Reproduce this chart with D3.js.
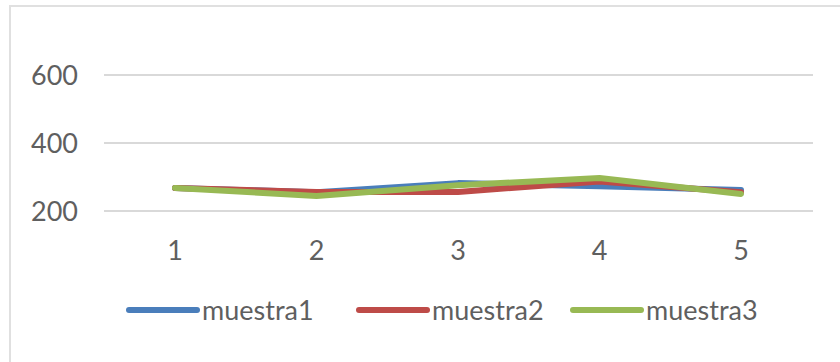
<!DOCTYPE html>
<html>
<head>
<meta charset="utf-8">
<script src="https://cdn.jsdelivr.net/npm/d3@7"></script>
<style>
  body { margin: 0; background: #fff; }
  svg text { font-family: Lato, "Open Sans", sans-serif; fill: #5f5f5f; }
</style>
</head>
<body>
<div id="chart"></div>
<script>
// datos
const categories = ["1", "2", "3", "4", "5"];
const seriesNames = ["muestra1", "muestra2", "muestra3"];
const muestra1 = [268, 255, 282, 273, 262];
const muestra2 = [268, 256, 256, 287, 255];
const muestra3 = [268, 244, 276, 297, 250];
const yTicks = [200, 400, 600];
const colors = ["#4a7ebb", "#be4b48", "#98b954"];

const width = 840, height = 362;

const svg = d3.select("#chart").append("svg")
    .attr("width", width)
    .attr("height", height);

// marco
svg.append("rect")
    .attr("x", 10).attr("y", 6)
    .attr("width", 840).attr("height", 360)
    .attr("fill", "none")
    .attr("stroke", "#e0e0e0")
    .attr("stroke-width", 2);

const x = d3.scalePoint()
    .domain(categories)
    .range([175, 741]);

const y = d3.scaleLinear()
    .domain([200, 600])
    .range([211, 75]);

// lineas de cuadricula
svg.append("g")
    .selectAll("line")
    .data(yTicks)
    .enter()
    .append("line")
    .attr("x1", 104).attr("x2", 813)
    .attr("y1", d => y(d)).attr("y2", d => y(d))
    .attr("stroke", "#d9d9d9")
    .attr("stroke-width", 2);

// etiquetas eje y
svg.append("g")
    .selectAll("text")
    .data(yTicks)
    .enter()
    .append("text")
    .attr("x", 78)
    .attr("y", d => y(d))
    .attr("dy", "0.36em")
    .attr("text-anchor", "end")
    .style("font-size", "27px")
    .text(d => d);

// etiquetas eje x
svg.append("g")
    .selectAll("text")
    .data(categories)
    .enter()
    .append("text")
    .attr("x", d => x(d))
    .attr("y", 250)
    .attr("dy", "0.36em")
    .attr("text-anchor", "middle")
    .style("font-size", "27px")
    .text(d => d);

// lineas de series
const seriesData = [muestra1, muestra2, muestra3];
const line = d3.line()
    .x((d, i) => x(categories[i]))
    .y(d => y(d));

svg.append("g")
    .selectAll("path")
    .data(seriesData)
    .enter()
    .append("path")
    .attr("d", d => line(d))
    .attr("fill", "none")
    .attr("stroke", (d, i) => colors[i])
    .attr("stroke-width", 6)
    .attr("stroke-linejoin", "round")
    .attr("stroke-linecap", "round");

// leyenda
const legendX = [129, 359, 573];
const legend = svg.append("g")
    .selectAll("g")
    .data(seriesNames)
    .enter()
    .append("g")
    .attr("transform", (d, i) => `translate(${legendX[i]}, 310)`);

legend.append("line")
    .attr("x1", 0).attr("x2", 68)
    .attr("stroke", (d, i) => colors[i])
    .attr("stroke-width", 6)
    .attr("stroke-linecap", "round");

legend.append("text")
    .attr("x", 73)
    .attr("dy", "0.36em")
    .style("font-size", "27px")
    .text(d => d);
</script>
</body>
</html>
